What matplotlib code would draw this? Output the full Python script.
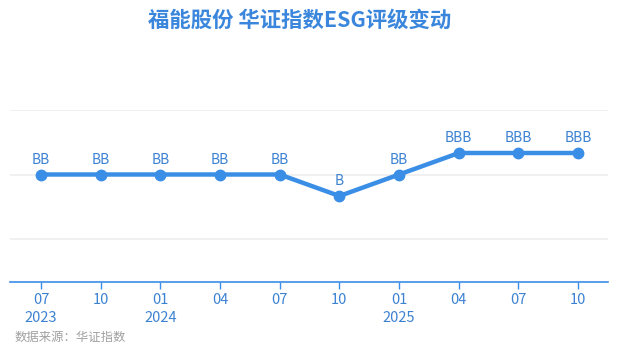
import matplotlib
matplotlib.use("Agg")
import matplotlib.pyplot as plt

plt.rcParams['font.family'] = ['Noto Sans CJK SC', 'DejaVu Sans']

months = ["07", "10", "01", "04", "07", "10", "01", "04", "07", "10"]
years = ["2023", "", "2024", "", "", "", "2025", "", "", ""]
ratings = ["BB", "BB", "BB", "BB", "BB", "B", "BB", "BBB", "BBB", "BBB"]
rating_scale = ["CCC", "B", "BB", "BBB", "A", "AA", "AAA"]
levels = [rating_scale.index(r) for r in ratings]

blue = "#3a8ee6"
text_blue = "#3c82d2"

fig = plt.figure(figsize=(6.18, 3.55), dpi=100)
ax = fig.add_axes([10/618, 73/355, 598/618, 172/355])

x = list(range(len(ratings)))
ax.plot(x, levels, color=blue, lw=3.2, marker='o', ms=7.5, zorder=3, solid_capstyle='round')
for xi, yi, r in zip(x, levels, ratings):
    ax.annotate(r, (xi, yi), xytext=(0, 5.5), textcoords='offset points',
                ha='center', va='bottom', fontsize=10, color=text_blue)

ax.set_xlim(-0.52, 9.5)
ax.set_ylim(-3, 5)
ax.set_yticks([-1, 2, 5])
ax.yaxis.grid(True, color="#efefef", lw=1.3)
ax.set_axisbelow(True)
ax.tick_params(axis='y', left=False, labelleft=False)
ax.set_xticks(x)
ax.set_xticklabels([m + ("\n" + y if y else "") for m, y in zip(months, years)],
                   fontsize=10.5, color=text_blue, linespacing=1.35)
ax.tick_params(axis='x', length=5, width=1, color=blue, pad=3)
for s in ['top', 'right', 'left']:
    ax.spines[s].set_visible(False)
ax.spines['bottom'].set_color(blue)
ax.spines['bottom'].set_linewidth(1.2)

fig.text(300/618, 1 - 20/355, "福能股份 华证指数ESG评级变动", ha='center', va='center',
         fontsize=15.4, fontweight='bold', color="#3a86dc")
fig.text(15/618, 1 - 337/355, "数据来源：华证指数", ha='left', va='center',
         fontsize=8.9, color="#a0a0a0")

fig.savefig("out.png", dpi=100)
